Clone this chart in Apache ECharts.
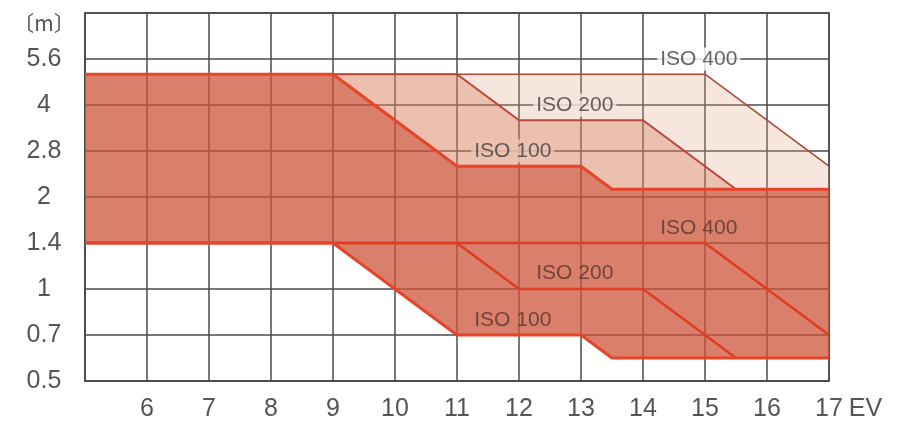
<!DOCTYPE html>
<html>
<head>
<meta charset="utf-8">
<script src="https://cdn.jsdelivr.net/npm/echarts@6/dist/echarts.min.js"></script>
<style>
  html, body { margin: 0; padding: 0; background: #fff; }
  #chart { width: 900px; height: 424px; }
</style>
</head>
<body>
<div id="chart"></div>
<script>
// y axis is in half-stops: value = 0.5 * sqrt(2)^index
var yTickLabels = ['0.5', '0.7', '1', '1.4', '2', '2.8', '4', '5.6', '〔m〕'];
var xTickLabels = ['', '6', '7', '8', '9', '10', '11', '12', '13', '14', '15', '16', '17'];

// [EV, half-stop index]
var iso100Upper = [[5, 6.67], [9, 6.67], [11, 4.67], [13, 4.67], [13.5, 4.17], [17, 4.17]];
var iso200Upper = [[5, 6.67], [11, 6.67], [12, 5.67], [14, 5.67], [15.5, 4.17], [17, 4.17]];
var iso400Upper = [[5, 6.67], [15, 6.67], [17, 4.67]];

var iso100Lower = [[5, 3], [9, 3], [11, 1], [13, 1], [13.5, 0.5], [17, 0.5]];
var iso200Lower = [[5, 3], [11, 3], [12, 2], [14, 2], [15.5, 0.5]];
var iso400Lower = [[5, 3], [15, 3], [17, 1]];

// label anchors (EV, index)
var upperLabels = [['ISO 400', 14.9, 7], ['ISO 200', 12.9, 6], ['ISO 100', 11.9, 5]];
var lowerLabels = [['ISO 400', 14.9, 3.33], ['ISO 200', 12.9, 2.35], ['ISO 100', 11.9, 1.33]];

var chart = echarts.init(document.getElementById('chart'));

// bands between two boundary lines
var fills = [
  { top: iso400Upper, bottom: iso200Upper, color: 'rgba(228,165,138,0.28)' },
  { top: iso200Upper, bottom: iso100Upper, color: 'rgba(217,129,95,0.5)' },
  { top: iso100Upper, bottom: iso100Lower, color: 'rgba(206,84,58,0.75)' }
];
var labelBg = ['#ffffff', '#f6e5de', '#ecc2b1'];

function lineSeries (data, color, width) {
  return {
    type: 'line',
    data: data,
    showSymbol: false,
    silent: true,
    z: 3,
    lineStyle: { color: color, width: width }
  };
}

var gridColor = '#4a4a4a';

var options = {
  animation: false,
  grid: {
    left: 85, right: 71, top: 13, bottom: 43,
    show: true, borderColor: gridColor, borderWidth: 1.5
  },
  xAxis: {
    type: 'value',
    min: 5, max: 17, interval: 1,
    name: 'EV',
    nameLocation: 'end',
    nameGap: 16,
    nameTextStyle: { fontFamily: 'Liberation Sans', color: '#555', fontSize: 25, verticalAlign: 'top', padding: [16, 0, 0, 0] },
    axisLine: { show: true, lineStyle: { color: gridColor, width: 1.5 } },
    axisTick: { show: false },
    axisLabel: {
      margin: 16,
      fontFamily: 'Liberation Sans', color: '#555', fontSize: 25,
      formatter: function (v) { return xTickLabels[Math.round(v - 5)]; }
    },
    splitLine: { show: true, lineStyle: { color: gridColor, width: 1.5 } }
  },
  yAxis: {
    type: 'value',
    min: 0, max: 8, interval: 1,
    axisLine: { show: true, lineStyle: { color: gridColor, width: 1.5 } },
    axisTick: { show: false },
    axisLabel: {
      margin: 41, align: 'center',
      fontFamily: 'Liberation Sans', color: '#555', fontSize: 25,
      formatter: function (v) {
        var s = yTickLabels[Math.round(v)];
        return v === 8 ? '{m|' + s + '}' : s;
      },
      rich: {
        m: { fontFamily: 'Noto Sans CJK SC', fontSize: 21, color: '#555', padding: [20, 0, 0, 0] }
      }
    },
    splitLine: { show: true, lineStyle: { color: gridColor, width: 1.5 } }
  },
  series: [
    {
      type: 'custom',
      silent: true,
      z: 2,
      data: fills.map(function (f) { return f.top[0]; }),
      renderItem: function (params, api) {
        var f = fills[params.dataIndex];
        var pts = f.top.concat(f.bottom.slice().reverse()).map(function (p) { return api.coord(p); });
        return { type: 'polygon', shape: { points: pts }, style: { fill: f.color } };
      }
    },
    lineSeries(iso400Upper, '#a94a3c', 1.6),
    lineSeries(iso400Lower, '#e03c22', 2.5),
    lineSeries(iso200Upper, '#b8473a', 2),
    lineSeries(iso200Lower, '#e03c22', 2.5),
    lineSeries(iso100Upper, '#e6452a', 3),
    lineSeries(iso100Lower, '#e6452a', 3),
    {
      type: 'scatter',
      silent: true,
      symbolSize: 0,
      z: 5,
      data: upperLabels.map(function (l, i) {
        return {
          value: [l[1], l[2]],
          label: {
            show: true, position: 'inside', formatter: l[0],
            fontFamily: 'Liberation Sans', color: '#3e3e3e', fontSize: 21,
            backgroundColor: labelBg[i], padding: [1, 3]
          }
        };
      })
    },
    {
      type: 'scatter',
      silent: true,
      symbolSize: 0,
      z: 5,
      data: lowerLabels.map(function (l) {
        return {
          value: [l[1], l[2]],
          label: {
            show: true, position: 'inside', formatter: l[0],
            fontFamily: 'Liberation Sans', color: '#553630', fontSize: 21
          }
        };
      })
    }
  ]
};

chart.setOption(options);
</script>
</body>
</html>
